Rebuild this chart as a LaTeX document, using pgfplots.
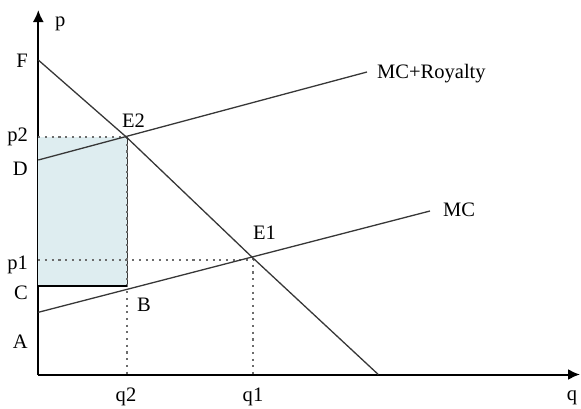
\documentclass[border=0pt]{standalone}
\usepackage{pgfplots}
\pgfplotsset{compat=1.18}
\usepackage{fontspec}
\setmainfont{Liberation Serif}
\usetikzlibrary{arrows.meta}
\definecolor{shade}{RGB}{222,237,240}
\definecolor{ln}{RGB}{55,55,55}
\tikzset{lbl/.style={font=\fontsize{20.6}{24}\selectfont, inner sep=0pt}}
\begin{document}
\begin{tikzpicture}
\begin{axis}[
  x=1bp, y=1bp,
  xmin=0, xmax=541.7, ymin=0, ymax=364.5,
  axis lines=left,
  axis line style={line width=2bp, -{Latex[length=12bp,width=11bp]}},
  xtick=\empty, ytick=\empty,
  clip=false,
]
% shaded rectangle
\addplot[fill=shade, draw=none] coordinates {(0,88.5) (89,88.5) (89,237.5) (0,237.5)} -- cycle;
\addplot[ln, line width=1.3bp] coordinates {(89,88.5) (89,237.5)};
% dotted guides
\addplot[gray!85!black, line width=2.1bp, dash pattern=on 2.1bp off 4.6bp] coordinates {(0,237.5) (89,237.5)};
\addplot[gray!85!black, line width=2.1bp, dash pattern=on 2.1bp off 4.6bp] coordinates {(89,237.5) (89,0)};
\addplot[gray!85!black, line width=2.1bp, dash pattern=on 2.1bp off 4.6bp] coordinates {(0,114.5) (215,114.5)};
\addplot[gray!85!black, line width=2.1bp, dash pattern=on 2.1bp off 4.6bp] coordinates {(215,116.5) (215,0)};
% C line
\addplot[black, line width=1.5bp] coordinates {(0,88.5) (89,88.5)};
% demand
\addplot[ln, line width=1.3bp] coordinates {(0,314.5) (88,237.5) (213.8,117.3) (340,0)};
% MC
\addplot[ln, line width=1.3bp] coordinates {(0,62.2) (391.7,163.5)};
% MC + Royalty
\addplot[ln, line width=1.3bp] coordinates {(0,214.5) (328.7,302.5)};
% labels
\node[lbl, anchor=base west] at (axis cs:16.7,348.5) {p};
\node[lbl, anchor=base east] at (axis cs:-10.3,307.5) {F};
\node[lbl, anchor=base east] at (axis cs:-10.3,233.5) {p2};
\node[lbl, anchor=base east] at (axis cs:-10.3,199.5) {D};
\node[lbl, anchor=base east] at (axis cs:-10.3,105.5) {p1};
\node[lbl, anchor=base east] at (axis cs:-10.3,75.5) {C};
\node[lbl, anchor=base east] at (axis cs:-10.3,26.5) {A};
\node[lbl, anchor=base] at (axis cs:87.7,-27.2) {q2};
\node[lbl, anchor=base] at (axis cs:214.7,-27.2) {q1};
\node[lbl, anchor=base] at (axis cs:533.7,-25.5) {q};
\node[lbl, anchor=base west] at (axis cs:83.7,247.5) {E2};
\node[lbl, anchor=base west] at (axis cs:214.7,135.5) {E1};
\node[lbl, anchor=base west] at (axis cs:98.7,63.5) {B};
\node[lbl, anchor=base west] at (axis cs:338.7,296.5) {MC+Royalty};
\node[lbl, anchor=base west] at (axis cs:404.7,157.8) {MC};
\coordinate (BL) at (axis cs:-38.3,-33.5);
\coordinate (TR) at (axis cs:542.7,374.5);
\end{axis}
\pgfresetboundingbox
\path[use as bounding box] (BL) rectangle (TR);
\end{tikzpicture}
\end{document}
